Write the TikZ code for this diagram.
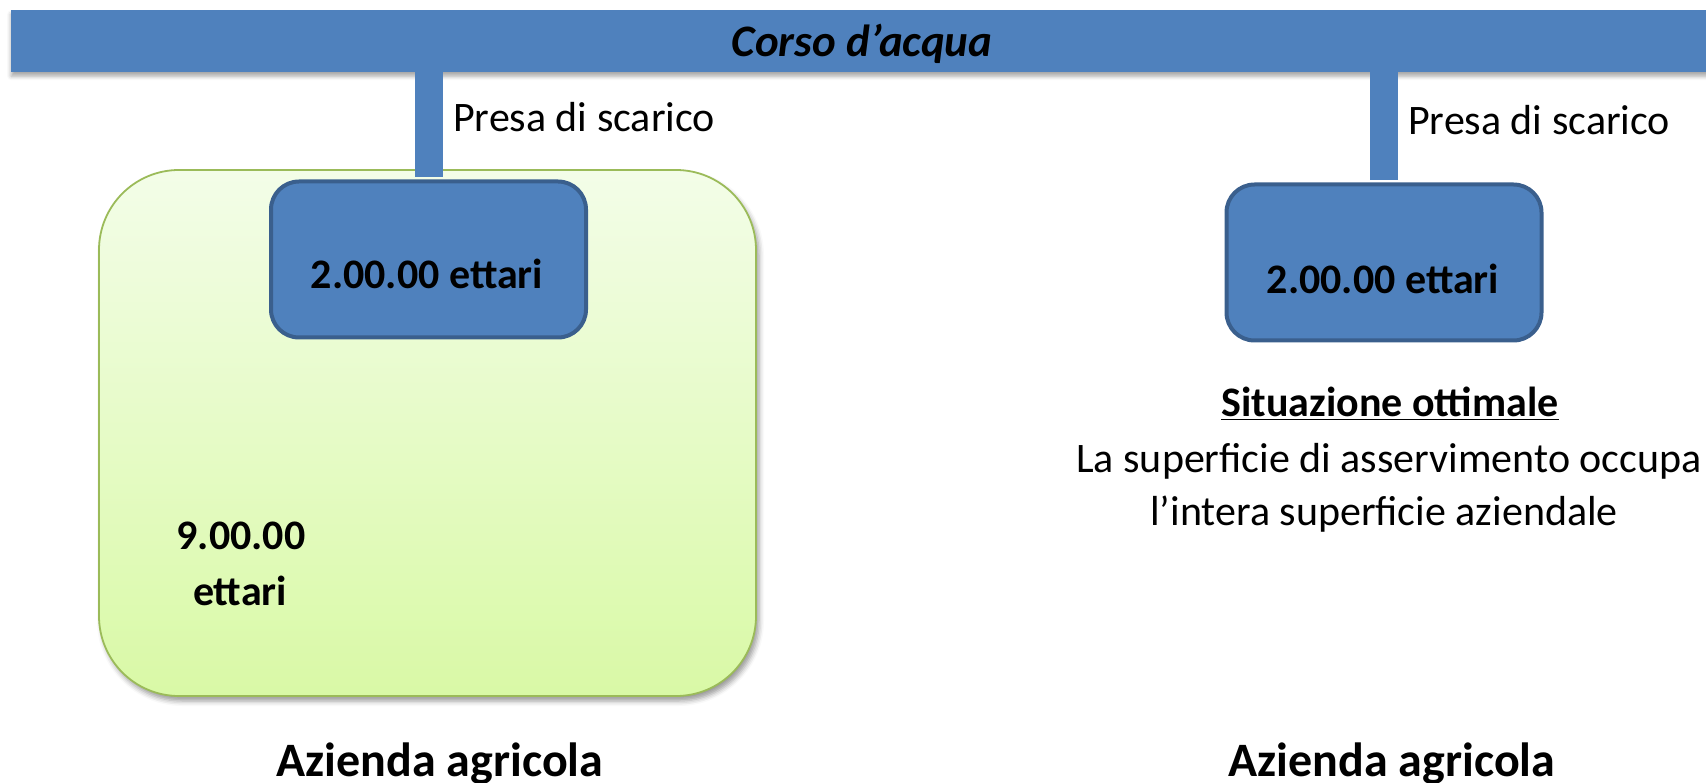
\documentclass[tikz,border=0pt]{standalone}
\usepackage{fontspec}
\setmainfont{Carlito}
\usetikzlibrary{shadows.blur}
\definecolor{accent}{HTML}{4F81BD}
\definecolor{accentdark}{HTML}{3A5F8D}
\definecolor{greentop}{HTML}{F3FDE8}
\definecolor{greenbot}{HTML}{D9F9A6}
\definecolor{greenline}{HTML}{9BBB59}
\tikzset{
  barbox/.style={rectangle, fill=accent, draw=none, inner sep=0pt,
    blur shadow={shadow xshift=0pt, shadow yshift=-4pt, shadow blur radius=4pt, shadow opacity=35}},
  farmbox/.style={rectangle, rounded corners=80pt, draw=greenline, line width=1.8pt,
    top color=greentop, bottom color=greenbot, inner sep=0pt,
    blur shadow={shadow xshift=3pt, shadow yshift=-5pt, shadow blur radius=5pt, shadow opacity=40}},
  areabox/.style={rectangle, rounded corners=28pt, fill=accent, draw=accentdark, line width=4pt,
    minimum width=315pt, minimum height=156pt, inner sep=0pt},
  stem/.style={draw=accent, line width=28pt, shorten >=2pt},
  txt/.style={anchor=base, inner sep=0pt, font=\fontsize{42}{50}\selectfont},
  btxt/.style={anchor=base, inner sep=0pt, font=\fontsize{42}{50}\selectfont\bfseries},
  bigtxt/.style={anchor=base, inner sep=0pt, font=\fontsize{48}{56}\selectfont\bfseries},
}
\begin{document}
\begin{tikzpicture}[x=1pt,y=-1pt]
\useasboundingbox (0,0) rectangle (1706,783);
% river bar
\node[barbox, anchor=north west, minimum width=1702pt, minimum height=62pt] (bar) at (11,10) {};
\node[anchor=base, inner sep=0pt, font=\fontsize{45}{52}\selectfont\bfseries\itshape] (river) at (862,57) {Corso d’acqua};
% farm (left)
\node[farmbox, minimum width=657pt, minimum height=526pt] (farm) at (427.5,433) {};
\node[areabox] (lbox) at (428.5,259.5) {};
\node[areabox] (rbox) at (1384,262.5) {};
% stems
\draw[stem] (lbox.north |- bar.south) -- (lbox.north);
\draw[stem] (rbox.north |- bar.south) -- (rbox.north);
% labels
\node[txt, anchor=base west] (lpresa) at (453,132) {Presa di scarico};
\node[txt, anchor=base west] (rpresa) at (1408,135) {Presa di scarico};
\node[btxt] (lha) at (427,289) {2.00.00 ettari};
\node[btxt] (rha) at (1383,294) {2.00.00 ettari};
\node[btxt] (nine) at (241,549) {9.00.00};
\node[btxt] (nineb) at (240,605) {ettari};
\node[btxt] (opt) at (1390,417) {\underline{Situazione ottimale}};
\node[txt] (opt1) at (1389,472) {La superficie di asservimento occupa};
\node[txt] (opt2) at (1384,525) {l’intera superficie aziendale};
\node[bigtxt] (lfarm) at (440,776) {Azienda agricola};
\node[bigtxt] (rfarm) at (1392,776) {Azienda agricola};
\end{tikzpicture}
\end{document}
